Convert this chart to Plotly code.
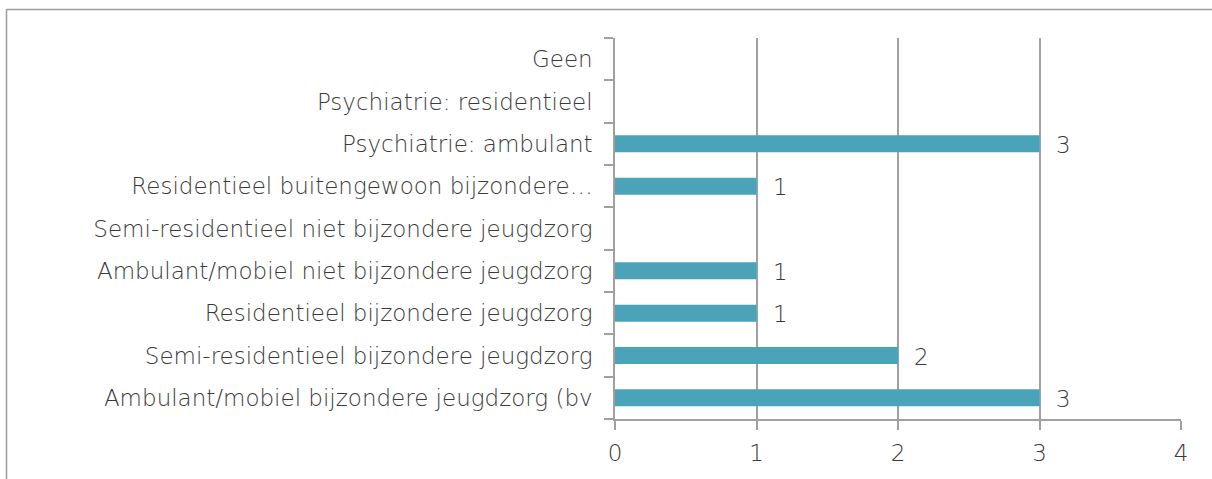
import plotly.graph_objects as go

# Categories listed bottom -> top
categories = [
    "Ambulant/mobiel bijzondere jeugdzorg (bv",
    "Semi-residentieel bijzondere jeugdzorg",
    "Residentieel bijzondere jeugdzorg",
    "Ambulant/mobiel niet bijzondere jeugdzorg",
    "Semi-residentieel niet bijzondere jeugdzorg",
    "Residentieel buitengewoon bijzondere…",
    "Psychiatrie: ambulant",
    "Psychiatrie: residentieel",
    "Geen",
]
values = [3, 2, 1, 1, None, 1, 3, None, None]
x_ticks = [0, 1, 2, 3, 4]

FONT = "DejaVu Sans"
FS = 23
TXT = "#3a3a3a"
GRID = "#a0a0a0"
BAR = "#4aa3b9"

W, H = 1212, 479
L, R, T, B = 615, 31, 38, 60
pw, ph = W - L - R, H - T - B

fnt = dict(family=FONT, size=FS, color=TXT, weight=200)

fig = go.Figure(
    go.Bar(
        x=values,
        y=categories,
        orientation="h",
        marker=dict(color=BAR, line=dict(width=0)),
        hoverinfo="x+y",
    )
)

for c, v in zip(categories, values):
    if v is None:
        continue
    fig.add_annotation(
        x=v, y=c, text=str(v), showarrow=False, xanchor="left", yanchor="middle",
        xshift=14, yshift=-1, font=fnt,
    )

# chart border (only top and left visible in reference)
bx = (6.5 - L) / pw
by = (H - B - 9.5) / ph
fig.add_shape(type="line", xref="paper", yref="paper", x0=bx, x1=1.2, y0=by, y1=by,
              line=dict(color="#9a9a9a", width=1.5))
fig.add_shape(type="line", xref="paper", yref="paper", x0=bx, x1=bx, y0=by, y1=-0.3,
              line=dict(color="#9a9a9a", width=1.5))

fig.update_layout(
    width=W, height=H,
    margin=dict(l=L, r=R, t=T, b=B),
    paper_bgcolor="white", plot_bgcolor="white",
    bargap=0.6,
    showlegend=False,
    font=fnt,
    xaxis=dict(
        range=[0, 4], tickvals=x_ticks, ticktext=[str(t) for t in x_ticks],
        showgrid=True, gridcolor=GRID, gridwidth=1.5,
        showline=True, linecolor=GRID, linewidth=1.5,
        ticks="outside", ticklen=9, tickcolor=GRID, tickwidth=1.5,
        ticklabelstandoff=4,
        zeroline=False, fixedrange=True,
        tickfont=fnt,
    ),
    yaxis=dict(
        type="category", categoryorder="array", categoryarray=categories,
        showline=True, linecolor=GRID, linewidth=1.5,
        ticks="outside", ticklen=9, tickcolor=GRID, tickwidth=1.5,
        tickson="boundaries", ticklabelstandoff=16,
        showgrid=False, zeroline=False, fixedrange=True,
        tickfont=fnt,
    ),
)

fig.write_html(
    "out.html",
    config={"displayModeBar": False},
    post_script="document.body.style.margin='0';document.body.style.overflow='hidden';",
)
